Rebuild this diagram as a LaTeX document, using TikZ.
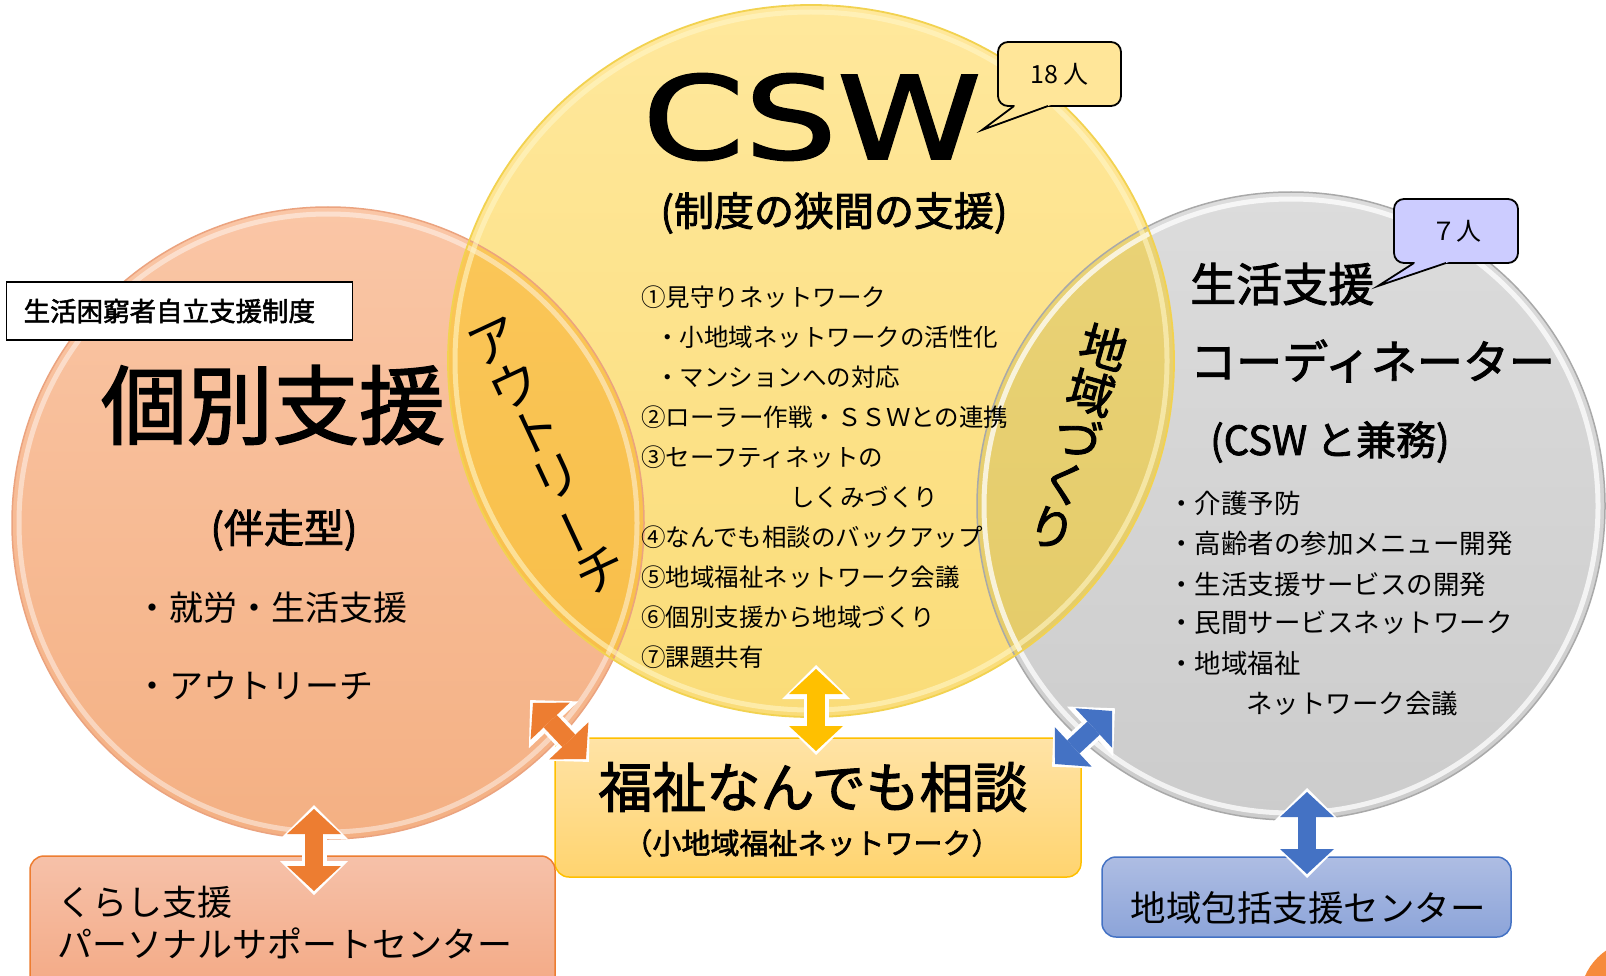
\documentclass[tikz,border=0pt]{standalone}
\usepackage{fontspec}
\setmainfont{Noto Sans CJK JP}
\newfontfamily\medfont[FakeBold=2]{Noto Sans CJK JP}
\newfontfamily\cswfont[FakeBold=1.6]{DejaVu Sans}
\usetikzlibrary{arrows.meta}

\definecolor{orangetop}{HTML}{FAC6A6}
\definecolor{orangebot}{HTML}{F4B083}
\definecolor{orangeedge}{HTML}{EBA37F}
\definecolor{yellowtop}{HTML}{FFE89C}
\definecolor{yellowbot}{HTML}{FADC78}
\definecolor{yellowedge}{HTML}{F2D250}
\definecolor{yellowring}{HTML}{FFF6C8}
\definecolor{graytop}{HTML}{DCDCDC}
\definecolor{graybot}{HTML}{CCCCCC}
\definecolor{grayedge}{HTML}{A9A9A9}
\definecolor{mixOYtop}{HTML}{FBCA60}
\definecolor{mixOYbot}{HTML}{F8BE48}
\definecolor{mixYGtop}{HTML}{EBD57C}
\definecolor{mixYGbot}{HTML}{E4CB68}
\definecolor{arrowor}{HTML}{ED7D31}
\definecolor{arrowye}{HTML}{FFC000}
\definecolor{arrowbl}{HTML}{4472C4}
\definecolor{soudantop}{HTML}{FFE3A6}
\definecolor{soudanbot}{HTML}{FFD46F}
\definecolor{kurashitop}{HTML}{F6C1A9}
\definecolor{kurashibot}{HTML}{F3A57E}
\definecolor{houkatsutop}{HTML}{AEBDE3}
\definecolor{houkatsubot}{HTML}{8CA4D9}
\definecolor{callyellow}{HTML}{FFE699}
\definecolor{callviolet}{HTML}{CCCCFF}
\definecolor{cornerorange}{HTML}{F68B3C}

\newcommand\fs[1]{\fontsize{#1}{#1}\selectfont}

\tikzset{
  bigtip/.tip={Triangle[length=25pt,width=54pt,line width=0pt]},
  rimtip/.tip={Triangle[length=34pt,width=68pt,line width=0pt]},
  arrowrim/.style={draw=white, line width=25pt, rimtip-rimtip, shorten <=-4pt, shorten >=-4pt},
  arrowbody/.style={draw=#1, line width=18pt, bigtip-bigtip},
  txt/.style={inner sep=0pt},
  listtext/.style={inner sep=0pt, anchor=west},
  bigbox/.style={rounded corners=14pt, line width=1.5pt},
  callout/.style={draw=black, line width=1.8pt, rounded corners=10pt, font=\fs{25}, inner sep=0pt},
}

\begin{document}
\begin{tikzpicture}[x=1pt, y=-1pt]
		\useasboundingbox (0,0) rectangle (1606,976);
		\fill[white] (0,0) rectangle (1606,976);
		
		%%%%% CIRCLES %%%%%
		\shade[top color=graytop, bottom color=graybot] (1291,506) circle (314);
		\shade[top color=orangetop, bottom color=orangebot] (328,523) circle (316);
		\shade[top color=yellowtop, bottom color=yellowbot] (811,361) circle[x radius=363, y radius=356];
		
		\begin{scope}
			\clip (328,523) circle (316);
			\shade[top color=mixOYtop, bottom color=mixOYbot] (811,361) circle[x radius=363, y radius=356];
		\end{scope}
		\begin{scope}
			\clip (1291,506) circle (314);
			\shade[top color=mixYGtop, bottom color=mixYGbot] (811,361) circle[x radius=363, y radius=356];
		\end{scope}
		
		\draw[orangeedge, line width=1.5pt] (328,523) circle (316);
		\draw[white, opacity=.45, line width=5pt] (328,523) circle (309);
		\draw[grayedge, line width=1.5pt] (1291,506) circle (314);
		\draw[white, opacity=.75, line width=5pt] (1291,506) circle (307);
		\draw[yellowedge, line width=1.8pt] (811,361) circle[x radius=363, y radius=356];
		\draw[yellowring, opacity=.6, line width=5pt] (811,361) circle[x radius=356, y radius=349];
		
		\fill[cornerorange] (1640,1000) circle (60);
		
		%%%%% LEFT %%%%%
		\node[draw=black, line width=1.2pt, fill=white, anchor=west, minimum height=58pt, text width=312pt, inner xsep=17pt, font=\medfont\fs{26.5}] (seido) at (6,311) {生活困窮者自立支援制度};
		\node[txt, font=\medfont\fs{86}] (kobetsu) at (273,405) {個別支援};
		\node[txt, font=\medfont\fs{40}] (bansou) at (284,530) {(伴走型)};
		\node[listtext, font=\fs{34}] (kobetsu-1) at (135,608) {・就労・生活支援};
		\node[listtext, font=\fs{34}] (kobetsu-2) at (135,686) {・アウトリーチ};
		\node[txt, font=\fs{50}, align=center, rotate=25] (outreach) at (547,457) {ア\\ウ\\ト\\リ\\\rotatebox[origin=c]{90}{ー}\\チ};
		
		%%%%% CSW %%%%%
		\node[txt, font=\cswfont\fs{115}] (csw) at (812,117) {\scalebox{1.27}[1]{CSW}};
		\node[txt, font=\medfont\fs{40}] (csw-sub) at (834,213) {(制度の狭間の支援)};
		\foreach \x/\y/\txt [count=\i] in {
			641/297/①見守りネットワーク,
			655/337/・小地域ネットワークの活性化,
			655/377/・マンションへの対応,
			641/417/②ローラー作戦・ＳＳＷとの連携,
			641/457/③セーフティネットの,
			790/497/しくみづくり,
			641/537/④なんでも相談のバックアップ,
			641/577/⑤地域福祉ネットワーク会議,
			641/617/⑥個別支援から地域づくり,
			641/657/⑦課題共有}
			\node[listtext, font=\fs{24.5}] (csw-\i) at (\x,\y) {\txt};
		
		%%%%% COORDINATOR %%%%%
		\node[txt, font=\medfont\fs{47}, align=center, rotate=-16] (chiiki) at (1078,437) {地\\域\\づ\\く\\り};
		\node[listtext, font=\medfont\fs{46}] (seikatsu) at (1190,284) {生活支援};
		\node[listtext, font=\medfont\fs{46}] (coordinator) at (1190,361) {コーディネーター};
		\node[listtext, font=\medfont\fs{40}] (kenmu) at (1210,442) {(CSW と兼務)};
		\foreach \x/\y/\txt [count=\i] in {
			1168/503/・介護予防,
			1168/543/・高齢者の参加メニュー開発,
			1168/584/・生活支援サービスの開発,
			1168/623/・民間サービスネットワーク,
			1168/663/・地域福祉,
			1246/704/ネットワーク会議}
			\node[listtext, font=\fs{26.5}] (coord-\i) at (\x,\y) {\txt};
		
		%%%%% BOXES %%%%%
		\node[bigbox, draw=arrowye, top color=soudantop, bottom color=soudanbot, minimum width=526pt, minimum height=139pt] (soudan-box) at (818,807.5) {};
		\node[txt, font=\medfont\fs{54}] (soudan) at (813,787) {福祉なんでも相談};
		\node[txt, font=\medfont\fs{29}] (soudan-sub) at (812,843) {（小地域福祉ネットワーク）};
		
		\node[bigbox, draw=arrowor, top color=kurashitop, bottom color=kurashibot, minimum width=525pt, minimum height=160pt] (kurashi-box) at (292.5,936) {};
		\node[listtext, font=\fs{35}] (kurashi-1) at (57,902) {くらし支援};
		\node[listtext, font=\fs{35}] (kurashi-2) at (57,943) {パーソナルサポートセンター};
		
		\node[bigbox, draw=arrowbl, top color=houkatsutop, bottom color=houkatsubot, minimum width=409pt, minimum height=80pt] (houkatsu-box) at (1306.5,897) {};
		\node[txt, font=\fs{35.5}] (houkatsu) at (1308,908) {地域包括支援センター};
		
		%%%%% ARROWS %%%%%
		\coordinate (kobetsu-dn) at (314,809);
		\coordinate (kurashi-up) at (314,891);
		\coordinate (kobetsu-se) at (533,703);
		\coordinate (soudan-nw) at (586,759);
		\coordinate (csw-dn) at (816,669);
		\coordinate (soudan-up) at (816,751);
		\coordinate (coord-sw) at (1112,711);
		\coordinate (soudan-ne) at (1055,764);
		\coordinate (coord-dn) at (1307,792);
		\coordinate (houkatsu-up) at (1307,874);
		\foreach \a/\b/\c in {kobetsu-dn/kurashi-up/arrowor, kobetsu-se/soudan-nw/arrowor, csw-dn/soudan-up/arrowye, coord-sw/soudan-ne/arrowbl, coord-dn/houkatsu-up/arrowbl} {
			\draw[arrowrim] (\a) -- (\b);
			\draw[arrowbody=\c] (\a) -- (\b);
		}
		
		%%%%% CALLOUTS %%%%%
		\node[callout, fill=callyellow, minimum width=123pt, minimum height=64pt] (cnt18) at (1059.5,74) {18 人};
		\fill[callyellow] (982,130) -- (1020.7,101) -- (1061.75,101) -- cycle;
		\draw[line width=1.8pt] (1014,106) -- (982,130) -- (1048,106);
		
		\node[callout, fill=callviolet, minimum width=124pt, minimum height=64pt] (cnt7) at (1456,231) {７人};
		\fill[callviolet] (1378,286) -- (1421.8,258) -- (1460.8,258) -- cycle;
		\draw[line width=1.8pt] (1414,263) -- (1378,286) -- (1446,263);
		
\end{tikzpicture}
\end{document}
